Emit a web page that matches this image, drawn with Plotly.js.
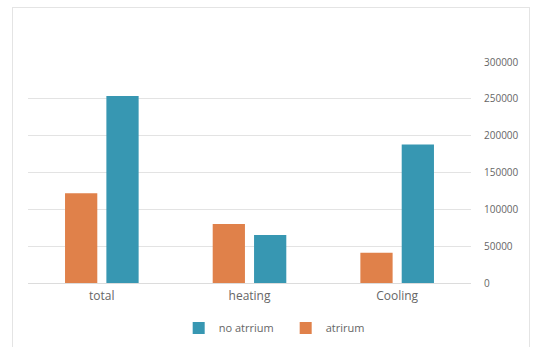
<!DOCTYPE html>
<html>
<head>
<meta charset="utf-8">
<script src="https://cdn.plot.ly/plotly-3.0.1.min.js"></script>
<style>
  html, body { margin: 0; padding: 0; background: #fff; }
  #wrap { position: relative; width: 534px; height: 347px; overflow: hidden; }
  #chart { width: 534px; height: 347px; }
  #frame { position: absolute; left: 12px; top: 7px; width: 518px; height: 350px;
           border: 1px solid #e4e4e4; pointer-events: none; box-sizing: border-box; }
</style>
</head>
<body>
<div id="wrap">
  <div id="chart"></div>
  <div id="frame"></div>
</div>
<script>
// Energy demand per category, with and without the atrium
const categories = ["total", "heating", "Cooling"];
const atriumValues = [122000, 80000, 41000];
const noAtriumValues = [254000, 65000, 188000];
const yTicks = [0, 50000, 100000, 150000, 200000, 250000, 300000];

const textColor = "#666666";
const fontFamily = "'Open Sans', 'Noto Sans', sans-serif";

const traces = [
  {
    type: "bar",
    name: "atrirum",
    x: categories,
    y: atriumValues,
    marker: { color: "#E0814A" }
  },
  {
    type: "bar",
    name: "no atrrium",
    x: categories,
    y: noAtriumValues,
    marker: { color: "#3797B2" }
  }
];

const layout = {
  width: 534,
  height: 347,
  margin: { l: 28, r: 63, t: 62, b: 64, autoexpand: false },
  paper_bgcolor: "#ffffff",
  plot_bgcolor: "#ffffff",
  barmode: "group",
  bargap: 0.44,
  bargroupgap: 0.22,
  font: { family: fontFamily, color: textColor, size: 11 },
  showlegend: true,
  legend: {
    orientation: "h",
    traceorder: "reversed",
    xref: "container",
    yref: "container",
    x: 0.535,
    xanchor: "center",
    y: 0.055,
    yanchor: "middle",
    font: { size: 11, color: textColor },
    itemwidth: 30,
    entrywidth: 62,
    entrywidthmode: "pixels",
    tracegroupgap: 0
  },
  xaxis: {
    type: "category",
    showgrid: false,
    showline: false,
    ticks: "",
    ticklabelstandoff: 4,
    tickfont: { size: 12, color: textColor },
    fixedrange: true
  },
  yaxis: {
    side: "right",
    range: [0, 300000],
    tickvals: yTicks,
    ticktext: yTicks.map(String),
    showgrid: true,
    gridcolor: "#e3e3e3",
    gridwidth: 1,
    zeroline: true,
    zerolinecolor: "#dcdcdc",
    zerolinewidth: 1,
    showline: false,
    ticks: "",
    ticklabelstandoff: 12,
    tickfont: { size: 10, color: textColor },
    fixedrange: true
  }
};

Plotly.newPlot("chart", traces, layout, { displayModeBar: false, staticPlot: true });
</script>
</body>
</html>
